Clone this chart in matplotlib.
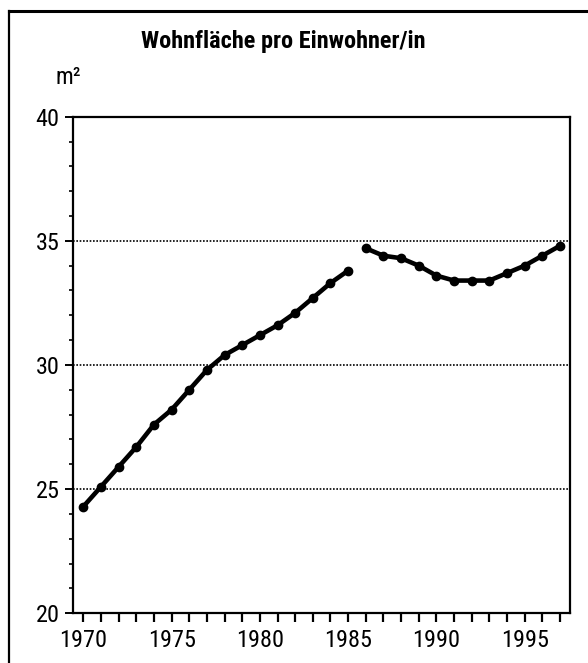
import matplotlib
matplotlib.use("Agg")
import matplotlib.pyplot as plt
from matplotlib.ticker import MultipleLocator
from matplotlib.lines import Line2D

plt.rcParams['font.family'] = ['Roboto Condensed', 'Liberation Sans', 'DejaVu Sans']

title = "Wohnfläche pro Einwohner/in"
unit = "m²"

years_a = [1970, 1971, 1972, 1973, 1974, 1975, 1976, 1977,
           1978, 1979, 1980, 1981, 1982, 1983, 1984, 1985]
values_a = [24.3, 25.1, 25.9, 26.7, 27.6, 28.2, 29.0, 29.8,
            30.4, 30.8, 31.2, 31.6, 32.1, 32.7, 33.3, 33.8]
years_b = [1986, 1987, 1988, 1989, 1990, 1991, 1992, 1993,
           1994, 1995, 1996, 1997]
values_b = [34.7, 34.4, 34.3, 34.0, 33.6, 33.4, 33.4, 33.4,
            33.7, 34.0, 34.4, 34.8]
x_ticks = [1970, 1975, 1980, 1985, 1990, 1995]
y_ticks = [20, 25, 30, 35, 40]

fig = plt.figure(figsize=(5.88, 6.63), dpi=100)
ax = fig.add_axes([0.1247, 0.075, 0.8447, 0.749])

for yv in y_ticks[1:-1]:
    ax.axhline(yv, color='black', linewidth=1.2, linestyle=(0, (1, 1)), zorder=1)

for xs, ys in [(years_a, values_a), (years_b, values_b)]:
    ax.plot(xs, ys, color='black', linewidth=3.3, marker='o', markersize=6,
            solid_capstyle='round', zorder=3)

ax.set_xlim(1969.43, 1997.57)
ax.set_ylim(20, 40)
ax.set_xticks(x_ticks)
ax.set_xticklabels([str(v) for v in x_ticks])
ax.xaxis.set_minor_locator(MultipleLocator(1))
ax.set_yticks(y_ticks)
ax.set_yticklabels([str(v) for v in y_ticks])
ax.yaxis.set_minor_locator(MultipleLocator(1))

ax.tick_params(axis='x', which='both', direction='out', length=6.5, width=1.6,
               labelsize=17.5, pad=5)
ax.tick_params(axis='y', which='major', direction='out', length=6, width=1.4,
               labelsize=17.5, pad=4)
ax.tick_params(axis='y', which='minor', direction='out', length=3, width=1.2)

for s in ax.spines.values():
    s.set_linewidth(1.6)
    s.set_color('black')

fig.text(0.482, 1 - 48.3/663, title, ha='center', va='baseline', fontsize=17.5,
         fontweight='heavy')
fig.text(55/588, 1 - 83.5/663, unit, ha='left', va='baseline', fontsize=17)

# outer frame (left and top edges)
fig.add_artist(Line2D([9/588, 9/588], [0, 1 - 11/663], transform=fig.transFigure,
                      color='black', linewidth=1.6))
fig.add_artist(Line2D([9/588, 1], [1 - 11/663, 1 - 11/663], transform=fig.transFigure,
                      color='black', linewidth=2.2))

fig.savefig("out.png", dpi=100)
